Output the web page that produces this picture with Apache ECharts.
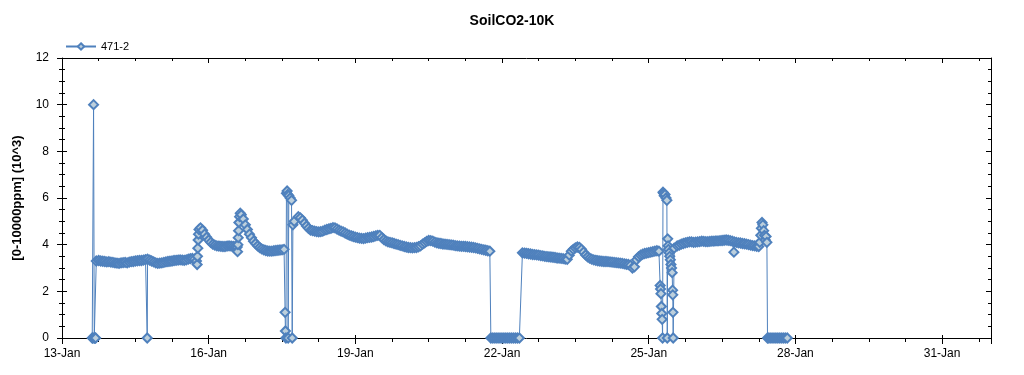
<!DOCTYPE html>
<html>
<head>
<meta charset="utf-8">
<script src="https://cdn.jsdelivr.net/npm/echarts@6/dist/echarts.min.js"></script>
<style>
  html, body { margin: 0; padding: 0; background: #fff; }
  #chart { width: 1024px; height: 375px; }
</style>
</head>
<body>
<div id="chart"></div>
<script>
// 图表文字
var titleText = 'SoilCO2-10K'
var seriesName = '471-2'
var yName = '[0-10000ppm] (10^3)'
var axisStart = '2021-01-13 00:00'
var xTickLabels = ['13-Jan', '16-Jan', '19-Jan', '22-Jan', '25-Jan', '28-Jan', '31-Jan']

// 数据：规则段（起始时间 + 1小时间隔的读数）
var segA = [3.32, 3.30, 3.29, 3.28, 3.26, 3.27, 3.25, 3.24, 3.22, 3.21,
  3.20, 3.22, 3.23, 3.24, 3.22, 3.25, 3.27, 3.28, 3.30, 3.31,
  3.32, 3.32, 3.34, 3.36, 3.38, 3.34, 3.30, 3.26, 3.22, 3.20,
  3.21, 3.22, 3.24, 3.26, 3.28, 3.29, 3.30, 3.32, 3.33, 3.34,
  3.35, 3.34, 3.33, 3.35, 3.38, 3.40, 3.41, 3.38, 3.30]
var segB = [4.72, 4.62, 4.45, 4.32, 4.20, 4.10, 4.02, 3.98, 3.95, 3.94,
  3.93, 3.92, 3.92, 3.94, 3.95, 3.94, 3.93, 3.92, 3.90]
var segB2 = [5.28, 5.10, 4.85, 4.65, 4.45, 4.30, 4.15, 4.05, 3.95, 3.88,
  3.82, 3.78, 3.75, 3.73, 3.72, 3.72, 3.74, 3.75, 3.76, 3.77, 3.78]
var segC = [5.20, 5.15, 5.05, 4.92, 4.80, 4.70, 4.62, 4.60, 4.58, 4.56,
  4.55, 4.56, 4.58, 4.62, 4.65, 4.68, 4.70, 4.73, 4.72, 4.67,
  4.62, 4.58, 4.55, 4.50, 4.45, 4.41, 4.38, 4.35, 4.32, 4.30,
  4.28, 4.27, 4.26, 4.28, 4.30, 4.31, 4.33, 4.35, 4.38, 4.40,
  4.40, 4.30, 4.22, 4.16, 4.12, 4.10, 4.08, 4.05, 4.02, 4.00,
  3.97, 3.95, 3.92, 3.90, 3.88, 3.87, 3.86, 3.87, 3.88, 3.91,
  3.95, 4.02, 4.08, 4.14, 4.18, 4.17, 4.15, 4.11, 4.08, 4.06,
  4.05, 4.03, 4.02, 4.01, 4.00, 3.99, 3.98, 3.96, 3.95, 3.94,
  3.93, 3.93, 3.92, 3.91, 3.90, 3.89, 3.88, 3.86, 3.84, 3.82,
  3.80, 3.78, 3.76, 3.74, 3.72]
var segD = [3.65, 3.64, 3.63, 3.61, 3.60, 3.58, 3.57, 3.56, 3.55, 3.53,
  3.52, 3.50, 3.49, 3.48, 3.47, 3.46, 3.45, 3.43, 3.42, 3.41,
  3.40, 3.38, 3.37, 3.55, 3.72, 3.80, 3.86, 3.90, 3.88, 3.80,
  3.68, 3.56, 3.48, 3.42, 3.38, 3.35, 3.33, 3.31, 3.30, 3.29,
  3.28, 3.28, 3.27, 3.26, 3.25, 3.24, 3.23, 3.22, 3.21, 3.20,
  3.18, 3.16, 3.15, 3.12, 3.00, 3.05, 3.35, 3.48, 3.55, 3.59,
  3.62, 3.64, 3.66, 3.68, 3.70, 3.72, 3.74]
var segE = [3.95, 3.98, 4.02, 4.05, 4.08, 4.10, 4.12, 4.12, 4.10, 4.11,
  4.12, 4.13, 4.15, 4.14, 4.13, 4.13, 4.14, 4.15, 4.15, 4.16,
  4.16, 4.17, 4.18, 4.19, 4.20, 4.19, 4.17, 4.15, 4.12, 4.10,
  4.08, 4.07, 4.05, 4.04, 4.02, 4.00, 3.98, 3.96, 3.95, 3.93,
  3.92]
// 传感器掉线时的0值（1小时间隔）
var zerosA = [0, 0, 0, 0, 0, 0, 0, 0, 0, 0, 0, 0, 0, 0, 0]
var zerosB = [0, 0, 0, 0, 0, 0, 0, 0, 0, 0]

// 不规则的尖峰点
var spike13 = [['2021-01-13 14:50', 0], ['2021-01-13 15:10', 0], ['2021-01-13 15:30', 10],
  ['2021-01-13 15:50', 0], ['2021-01-13 16:10', 0], ['2021-01-13 16:30', 0], ['2021-01-13 16:50', 3.3]]
var dip14 = [['2021-01-14 17:50', 0]]
var rise15 = [['2021-01-15 18:20', 3.15], ['2021-01-15 18:30', 3.5], ['2021-01-15 18:40', 3.85],
  ['2021-01-15 18:50', 4.2], ['2021-01-15 19:00', 4.45], ['2021-01-15 19:15', 4.65]]
var rise16 = [['2021-01-16 14:10', 3.7], ['2021-01-16 14:20', 4.0], ['2021-01-16 14:30', 4.3],
  ['2021-01-16 14:40', 4.6], ['2021-01-16 14:50', 4.95], ['2021-01-16 15:10', 5.2], ['2021-01-16 15:30', 5.35]]
var spike17 = [['2021-01-17 13:00', 3.8], ['2021-01-17 13:30', 1.1], ['2021-01-17 13:40', 0.3],
  ['2021-01-17 13:55', 0], ['2021-01-17 14:10', 6.2], ['2021-01-17 14:30', 6.3], ['2021-01-17 14:50', 6.15],
  ['2021-01-17 15:00', 0], ['2021-01-17 15:20', 6.1], ['2021-01-17 16:00', 6.0], ['2021-01-17 16:40', 5.9],
  ['2021-01-17 17:00', 0], ['2021-01-17 17:20', 4.85], ['2021-01-17 18:00', 5.0]]
var spike25 = [['2021-01-25 05:00', 3.72], ['2021-01-25 05:36', 2.25], ['2021-01-25 05:48', 2.1],
  ['2021-01-25 06:00', 1.9], ['2021-01-25 06:12', 1.35], ['2021-01-25 06:24', 1.05], ['2021-01-25 06:36', 0.8],
  ['2021-01-25 06:48', 0], ['2021-01-25 07:00', 6.25], ['2021-01-25 07:18', 6.2], ['2021-01-25 07:36', 6.1],
  ['2021-01-25 08:00', 6.15], ['2021-01-25 08:30', 6.0], ['2021-01-25 08:54', 5.9], ['2021-01-25 09:06', 0],
  ['2021-01-25 09:18', 4.25], ['2021-01-25 09:30', 3.95], ['2021-01-25 09:42', 3.8], ['2021-01-25 10:00', 3.65],
  ['2021-01-25 10:18', 3.5], ['2021-01-25 10:36', 3.35], ['2021-01-25 10:54', 3.15], ['2021-01-25 11:12', 3.0],
  ['2021-01-25 11:30', 2.8], ['2021-01-25 11:42', 2.05], ['2021-01-25 11:48', 1.85], ['2021-01-25 11:54', 1.1],
  ['2021-01-25 12:00', 0], ['2021-01-25 12:30', 3.85]]
var outlier26 = [['2021-01-26 17:48', 3.68]]
var spike27 = [['2021-01-27 06:30', 4.1], ['2021-01-27 07:00', 4.4], ['2021-01-27 07:18', 4.7],
  ['2021-01-27 07:36', 4.95], ['2021-01-27 08:00', 4.85], ['2021-01-27 08:24', 4.6], ['2021-01-27 08:48', 4.4],
  ['2021-01-27 09:12', 4.2], ['2021-01-27 09:36', 4.35], ['2021-01-27 10:00', 4.1], ['2021-01-27 10:18', 0]]

function parseT (s) {
  return Date.parse(s.replace(' ', 'T') + ':00Z')
}
var t0 = parseT(axisStart)
function toDay (s) {
  return (parseT(s) - t0) / 864e5
}
function segment (start, stepMin, vals) {
  var d = toDay(start)
  return vals.map(function (v, i) { return [d + i * stepMin / 1440, v] })
}
function points (list) {
  return list.map(function (p) { return [toDay(p[0]), p[1]] })
}

var data = [].concat(
  points(spike13),
  segment('2021-01-13 18:00', 60, segA),
  points(dip14),
  points(rise15),
  segment('2021-01-15 20:00', 60, segB),
  points(rise16),
  segment('2021-01-16 16:00', 60, segB2),
  points(spike17),
  segment('2021-01-17 20:00', 60, segC),
  segment('2021-01-21 18:30', 60, zerosA),
  segment('2021-01-22 10:00', 60, segD),
  points(spike25),
  segment('2021-01-25 14:00', 60, segE),
  points(outlier26),
  points(spike27),
  segment('2021-01-27 11:00', 60, zerosB)
).sort(function (a, b) { return a[0] - b[0] })

var font = 'Arial, "Liberation Sans", sans-serif'
var black = '#000'
var xMax = 19
var box = { left: 62, right: 33, top: 58, bottom: 37 }

function xAxisBase (extra) {
  return Object.assign({
    type: 'value', min: 0, max: xMax, interval: 3,
    splitLine: { show: false },
    axisLine: { show: false, lineStyle: { color: black } },
    axisTick: { show: false },
    axisLabel: { show: false }
  }, extra)
}
function yAxisBase (extra) {
  return Object.assign({
    type: 'value', min: 0, max: 12, interval: 2,
    splitLine: { show: false },
    axisLine: { show: false, lineStyle: { color: black } },
    axisTick: { show: false },
    axisLabel: { show: false }
  }, extra)
}
function tick (len, inside) {
  return { show: true, inside: !!inside, length: len, lineStyle: { color: black } }
}
var frameLine = { show: true, onZero: false, lineStyle: { color: black, width: 1 } }

var chart = echarts.init(document.getElementById('chart'))
chart.setOption({
  backgroundColor: '#fff',
  animation: false,
  title: {
    text: titleText,
    left: 'center',
    top: 9,
    textStyle: { fontFamily: font, fontSize: 14, fontWeight: 'bold', color: black }
  },
  legend: {
    left: 60,
    top: 36,
    itemWidth: 30,
    itemHeight: 8,
    textStyle: { fontFamily: font, fontSize: 11, color: black },
    data: [seriesName]
  },
  // 三个重叠的grid，用来画内外两侧的刻度
  grid: [box, box, box],
  xAxis: [
    xAxisBase({
      gridIndex: 0, position: 'bottom',
      axisLine: frameLine,
      axisTick: tick(6),
      axisLabel: {
        show: true, margin: 10, fontFamily: font, fontSize: 12, color: black,
        formatter: function (v) {
          return v % 3 === 0 ? (xTickLabels[v / 3] || '') : ''
        }
      }
    }),
    xAxisBase({ gridIndex: 0, position: 'top', axisLine: frameLine, axisTick: tick(5, true) }),
    xAxisBase({ gridIndex: 1, position: 'bottom', interval: 0.75, axisTick: tick(4) }),
    xAxisBase({ gridIndex: 1, position: 'top', interval: 0.75, axisTick: tick(3, true) }),
    xAxisBase({ gridIndex: 2, position: 'bottom', axisTick: tick(3, true) })
  ],
  yAxis: [
    yAxisBase({
      gridIndex: 0, position: 'left',
      name: yName,
      nameLocation: 'middle',
      nameGap: 38,
      nameTextStyle: { fontFamily: font, fontSize: 13, fontWeight: 'bold', color: black },
      axisLine: frameLine,
      axisTick: tick(5),
      minorTick: { show: true, splitNumber: 4, length: 3, lineStyle: { color: black } },
      axisLabel: { show: true, margin: 13, fontFamily: font, fontSize: 12, color: black }
    }),
    yAxisBase({
      gridIndex: 0, position: 'right',
      axisLine: frameLine,
      axisTick: tick(5, true),
      minorTick: { show: true, splitNumber: 4, length: 3, lineStyle: { color: black } }
    }),
    yAxisBase({
      gridIndex: 1, position: 'left',
      axisTick: tick(5, true),
      minorTick: { show: true, splitNumber: 4, length: 3, lineStyle: { color: black } }
    }),
    yAxisBase({ gridIndex: 2, position: 'left' })
  ],
  series: [
    {
      name: seriesName,
      type: 'line',
      xAxisIndex: 0,
      yAxisIndex: 0,
      data: data,
      symbol: 'diamond',
      symbolSize: 9,
      showSymbol: true,
      showAllSymbol: true,
      lineStyle: { color: '#4F81BD', width: 1 },
      itemStyle: { color: '#BCCFDC', borderColor: '#4F81BD', borderWidth: 2 },
      emphasis: { disabled: true }
    }
  ]
})
</script>
</body>
</html>
